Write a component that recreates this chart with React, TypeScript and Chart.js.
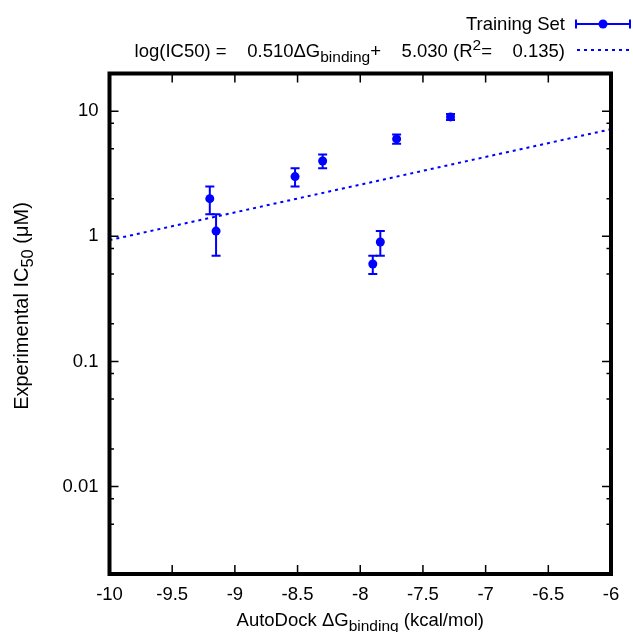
import { useEffect, useRef } from "react";
import { Chart, registerables } from "chart.js";

Chart.register(...registerables);

// ---- data ----
const xValues = [-9.2, -9.15, -8.52, -8.3, -7.71, -7.28, -7.9, -7.84];
const yValues = [2.0, 1.1, 3.0, 4.0, 6.0, 9.0, 0.6, 0.9];
const yErrors = [0.5, 0.4, 0.5, 0.5, 0.5, 0.5, 0.1, 0.2];

const fitSlope = 0.51;
const fitIntercept = 5.03;
const fitR2 = 0.135;

const xRange = [-10, -6];
const yRange = [0.002, 20];

const xTicks = [-10, -9.5, -9, -8.5, -8, -7.5, -7, -6.5, -6];
const xTickLabels = ["-10", "-9.5", "-9", "-8.5", "-8", "-7.5", "-7", "-6.5", "-6"];
const yMajorTicks = [0.01, 0.1, 1, 10];
const yTickLabels = ["0.01", "0.1", "1", "10"];
const yMinorTicks = [0.002, 0.005, 0.008, 0.02, 0.05, 0.08, 0.2, 0.5, 0.8, 2, 5, 8, 20];

const seriesLabel = "Training Set";
const BLUE = "#0000ff";
const FONT = '"Liberation Sans", Arial, Helvetica, sans-serif';
const MAIN = 18.5;
const SUB = 15.5;

type Seg = { t: string; k?: "sub" | "sup" };

function drawRich(
  ctx: CanvasRenderingContext2D,
  segs: Seg[],
  x: number,
  y: number,
  align: "left" | "center" | "right",
  main = MAIN,
  sub = SUB
) {
  const widths = segs.map((s) => {
    ctx.font = `${s.k ? sub : main}px ${FONT}`;
    return ctx.measureText(s.t).width;
  });
  const total = widths.reduce((a, b) => a + b, 0);
  let cx = align === "left" ? x : align === "center" ? x - total / 2 : x - total;
  ctx.textBaseline = "alphabetic";
  ctx.textAlign = "left";
  segs.forEach((s, i) => {
    ctx.font = `${s.k ? sub : main}px ${FONT}`;
    const dy = s.k === "sub" ? 5 : s.k === "sup" ? -7 : 0;
    ctx.fillText(s.t, cx, y + dy);
    cx += widths[i];
  });
}

const fmt = (v: number) => v.toFixed(3).padStart(8);

const decorPlugin = {
  id: "decor",
  beforeDatasetsDraw(chart: any) {
    const ctx = chart.ctx as CanvasRenderingContext2D;
    const xs = chart.scales.x;
    const ys = chart.scales.y;
    ctx.save();
    ctx.strokeStyle = BLUE;
    ctx.lineWidth = 2;
    const cap = 4.5;
    xValues.forEach((xv, i) => {
      const px = xs.getPixelForValue(xv);
      const top = ys.getPixelForValue(yValues[i] + yErrors[i]);
      const bot = ys.getPixelForValue(yValues[i] - yErrors[i]);
      ctx.beginPath();
      ctx.moveTo(px, top);
      ctx.lineTo(px, bot);
      ctx.moveTo(px - cap, top);
      ctx.lineTo(px + cap, top);
      ctx.moveTo(px - cap, bot);
      ctx.lineTo(px + cap, bot);
      ctx.stroke();
    });
    ctx.restore();
  },
  afterDraw(chart: any) {
    const ctx = chart.ctx as CanvasRenderingContext2D;
    const a = chart.chartArea;
    const xs = chart.scales.x;
    const ys = chart.scales.y;
    ctx.save();
    // ticks (inward, all sides)
    ctx.strokeStyle = "#000";
    ctx.lineWidth = 1.5;
    const major = 9;
    const minor = 4.5;
    ctx.beginPath();
    xTicks.forEach((v) => {
      const p = xs.getPixelForValue(v);
      ctx.moveTo(p, a.bottom);
      ctx.lineTo(p, a.bottom - major);
      ctx.moveTo(p, a.top);
      ctx.lineTo(p, a.top + major);
    });
    yMajorTicks.forEach((v) => {
      const p = ys.getPixelForValue(v);
      ctx.moveTo(a.left, p);
      ctx.lineTo(a.left + major, p);
      ctx.moveTo(a.right, p);
      ctx.lineTo(a.right - major, p);
    });
    yMinorTicks.forEach((v) => {
      const p = ys.getPixelForValue(v);
      ctx.moveTo(a.left, p);
      ctx.lineTo(a.left + minor, p);
      ctx.moveTo(a.right, p);
      ctx.lineTo(a.right - minor, p);
    });
    ctx.stroke();
    // frame
    ctx.lineWidth = 4;
    ctx.lineJoin = "miter";
    ctx.strokeRect(a.left, a.top, a.right - a.left, a.bottom - a.top);

    // axis titles
    ctx.fillStyle = "#000";
    drawRich(
      ctx,
      [{ t: "AutoDock ΔG" }, { t: "binding", k: "sub" }, { t: " (kcal/mol)" }],
      (a.left + a.right) / 2,
      626,
      "center"
    );
    ctx.save();
    ctx.translate(27.5, 306);
    ctx.rotate(-Math.PI / 2);
    drawRich(
      ctx,
      [{ t: "Experimental IC" }, { t: "50", k: "sub" }, { t: " (μM)" }],
      0,
      0,
      "center",
      20,
      16.5
    );
    ctx.restore();

    // legend
    const textRight = 565;
    drawRich(ctx, [{ t: seriesLabel }], textRight, 30, "right");
    drawRich(
      ctx,
      [
        { t: `log(IC50) = ${fmt(fitSlope)}ΔG` },
        { t: "binding", k: "sub" },
        { t: `+ ${fmt(fitIntercept)} (R` },
        { t: "2", k: "sup" },
        { t: `= ${fmt(fitR2)})` },
      ],
      textRight,
      57,
      "right"
    );
    // sample 1: errorbar with point
    const l1 = 24;
    ctx.strokeStyle = BLUE;
    ctx.fillStyle = BLUE;
    ctx.lineWidth = 2;
    ctx.beginPath();
    ctx.moveTo(576, l1);
    ctx.lineTo(630, l1);
    ctx.moveTo(576, l1 - 4.5);
    ctx.lineTo(576, l1 + 4.5);
    ctx.moveTo(630, l1 - 4.5);
    ctx.lineTo(630, l1 + 4.5);
    ctx.stroke();
    ctx.beginPath();
    ctx.arc(603, l1, 4.5, 0, Math.PI * 2);
    ctx.fill();
    // sample 2: dotted
    ctx.setLineDash([3, 4]);
    ctx.beginPath();
    ctx.moveTo(577, 50);
    ctx.lineTo(630, 50);
    ctx.stroke();
    ctx.restore();
  },
};

export default function App() {
  const ref = useRef<HTMLCanvasElement | null>(null);
  useEffect(() => {
    if (!ref.current) return;
    const points = xValues.map((x, i) => ({ x, y: yValues[i] }));
    const fitLine = xRange.map((x) => ({ x, y: Math.exp(fitSlope * x + fitIntercept) }));
    const chart = new Chart(ref.current, {
      type: "scatter",
      data: {
        datasets: [
          {
            label: seriesLabel,
            data: points,
            backgroundColor: BLUE,
            borderColor: BLUE,
            pointRadius: 4.5,
            pointBorderWidth: 0,
            showLine: false,
          },
          {
            label: "fit",
            data: fitLine,
            borderColor: BLUE,
            borderWidth: 2,
            borderDash: [3, 4],
            pointRadius: 0,
            showLine: true,
            fill: false,
          },
        ],
      },
      plugins: [decorPlugin],
      options: {
        animation: false,
        responsive: true,
        maintainAspectRatio: false,
        layout: { padding: { top: 73.5, right: 22, left: 0, bottom: 0 } },
        plugins: { legend: { display: false }, tooltip: { enabled: false } },
        scales: {
          x: {
            type: "linear",
            min: xRange[0],
            max: xRange[1],
            grid: { display: false, drawTicks: false },
            border: { display: false },
            afterBuildTicks: (s: any) => {
              s.ticks = xTicks.map((v) => ({ value: v }));
            },
            afterFit: (s: any) => {
              s.height = 58;
            },
            ticks: {
              padding: 10,
              color: "#000",
              font: { family: FONT, size: MAIN },
              maxRotation: 0,
              autoSkip: false,
              callback: (_v: any, i: number) => xTickLabels[i],
            },
          },
          y: {
            type: "logarithmic",
            min: yRange[0],
            max: yRange[1],
            grid: { display: false, drawTicks: false },
            border: { display: false },
            afterBuildTicks: (s: any) => {
              s.ticks = yMajorTicks.map((v) => ({ value: v }));
            },
            afterFit: (s: any) => {
              s.width = 109.5;
            },
            ticks: {
              padding: 11,
              color: "#000",
              font: { family: FONT, size: MAIN },
              autoSkip: false,
              callback: (_v: any, i: number) => yTickLabels[i],
            },
          },
        },
      },
    });
    return () => chart.destroy();
  }, []);
  return (
    <div style={{ position: "fixed", left: 0, top: 0, width: 633, height: 632, background: "#fff" }}>
      <canvas ref={ref} />
    </div>
  );
}
